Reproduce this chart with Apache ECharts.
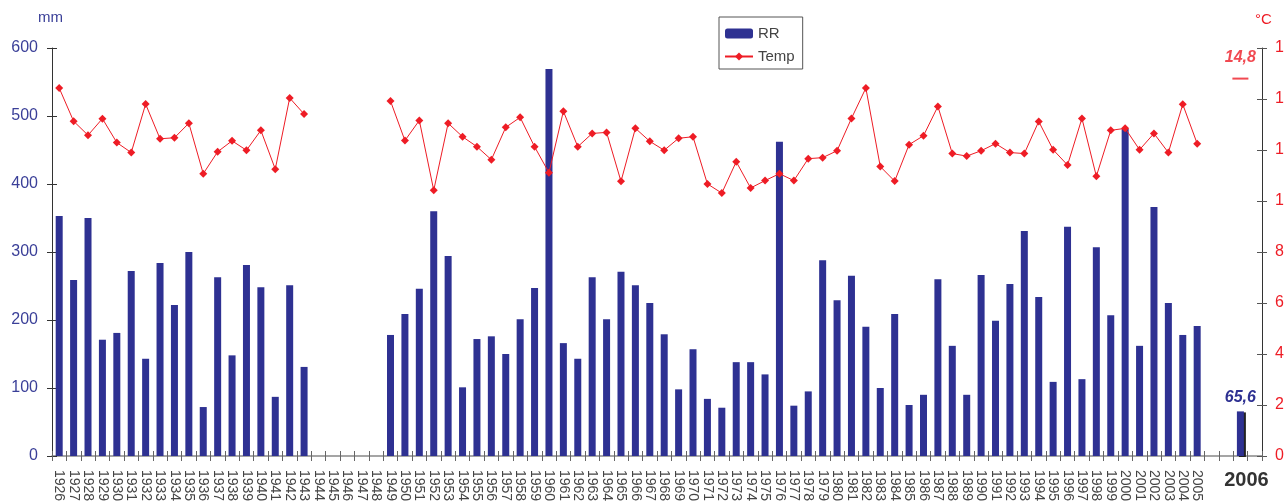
<!DOCTYPE html>
<html>
<head>
<meta charset="utf-8">
<script src="https://cdn.jsdelivr.net/npm/echarts@6/dist/echarts.min.js"></script>
<style>
html,body{margin:0;padding:0;background:#fff;}
#chart{width:1284px;height:501px;}
</style>
</head>
<body>
<div id="chart"></div>
<script>
var categories = ['1926','1927','1928','1929','1930','1931','1932','1933','1934','1935','1936','1937','1938','1939','1940','1941','1942','1943','1944','1945','1946','1947','1948','1949','1950','1951','1952','1953','1954','1955','1956','1957','1958','1959','1960','1961','1962','1963','1964','1965','1966','1967','1968','1969','1970','1971','1972','1973','1974','1975','1976','1977','1978','1979','1980','1981','1982','1983','1984','1985','1986','1987','1988','1989','1990','1991','1992','1993','1994','1995','1996','1997','1998','1999','2000','2001','2002','2003','2004','2005','','','2006',''];

var rr = [353,259,350,171,181,272,143,284,222,300,72,263,148,281,248,87,251,131,'-','-','-','-','-',178,209,246,360,294,101,172,176,150,201,247,569,166,143,263,201,271,251,225,179,98,157,84,71,138,138,120,462,74,95,288,229,265,190,100,209,75,90,260,162,90,266,199,253,331,234,109,337,113,307,207,481,162,366,225,178,191,'-','-',65.6,'-'];

var temp = [14.43,13.13,12.58,13.23,12.29,11.90,13.80,12.44,12.48,13.05,11.07,11.93,12.36,11.99,12.77,11.25,14.04,13.41,'-','-','-','-','-',13.92,12.37,13.16,10.42,13.05,12.52,12.13,11.62,12.89,13.28,12.13,11.11,13.52,12.13,12.65,12.69,10.77,12.85,12.34,11.99,12.46,12.52,10.67,10.31,11.54,10.51,10.80,11.07,10.80,11.66,11.70,11.97,13.24,14.43,11.35,10.78,12.21,12.56,13.71,11.86,11.76,11.97,12.25,11.90,11.86,13.12,12.01,11.41,13.24,10.97,12.77,12.85,12.01,12.65,11.90,13.79,12.25,'-','-','-','-'];

var temp2006 = ['-','-','-','-','-','-','-','-','-','-','-','-','-','-','-','-','-','-','-','-','-','-','-','-','-','-','-','-','-','-','-','-','-','-','-','-','-','-','-','-','-','-','-','-','-','-','-','-','-','-','-','-','-','-','-','-','-','-','-','-','-','-','-','-','-','-','-','-','-','-','-','-','-','-','-','-','-','-','-','-','-','-',14.8,'-'];

var mmTicks = {min:0, max:600, interval:100};
var cTicks = {min:0, max:16, interval:2};

var BLUE = '#2e3192';
var RED = '#ee1c25';
var FONT = 'Liberation Sans, Arial, sans-serif';
var hiIdx = categories.indexOf('2006');

var rrData = rr.map(function(v, i){
  if (i === hiIdx) {
    return {value: v,
      itemStyle: {color: BLUE, shadowColor: '#222', shadowOffsetX: 2, shadowOffsetY: 1, shadowBlur: 0},
      label: {show: true, position: 'top', distance: 6, formatter: function(p){return String(p.value).replace('.', ',');},
        color: BLUE, fontSize: 16, fontWeight: 'bold', fontStyle: 'italic', fontFamily: FONT}};
  }
  return v;
});

var chart = echarts.init(document.getElementById('chart'));
chart.setOption({
  animation: false,
  backgroundColor: '#fff',
  textStyle: {fontFamily: FONT},
  grid: {left: 52, right: 22, top: 48, bottom: 45, containLabel: false, outerBoundsMode: 'none'},
  legend: {
    data: ['RR', 'Temp'],
    orient: 'vertical', left: 719, top: 17,
    itemWidth: 28, itemHeight: 10, itemGap: 8,
    padding: [9, 8, 5, 5],
    borderColor: '#555', borderWidth: 1,
    textStyle: {fontSize: 15, color: '#444', fontFamily: FONT}
  },
  graphic: [
    {type: 'text', left: 38, top: 10, style: {text: 'mm', fill: '#3a3f98', font: '15px ' + FONT}},
    {type: 'text', left: 1255, top: 12, style: {text: '°C', fill: RED, font: '15px ' + FONT}}
  ],
  xAxis: [
    {type: 'category', data: categories, position: 'bottom',
      axisLine: {lineStyle: {color: '#888', width: 1.5}},
      axisTick: {show: true, interval: 0, length: 5, lineStyle: {color: '#666'}},
      axisLabel: {interval: 0, rotate: -90, margin: 14, fontSize: 14, color: '#444', fontFamily: FONT,
        formatter: function(v){ return v === '2006' ? '' : v; }}
    },
    {type: 'category', data: categories, position: 'bottom',
      axisLine: {show: false},
      axisTick: {show: true, inside: true, interval: 0, length: 5, lineStyle: {color: '#666'}},
      axisLabel: {interval: 0, margin: 14, fontSize: 20, fontWeight: 'bold', color: '#333', fontFamily: FONT,
        padding: [0, 0, 0, 12],
        formatter: function(v){ return v === '2006' ? v : ''; }}
    }
  ],
  yAxis: [
    {type: 'value', position: 'left', min: mmTicks.min, max: mmTicks.max, interval: mmTicks.interval,
      splitLine: {show: false},
      axisLine: {show: true, lineStyle: {color: '#333'}},
      axisTick: {show: true, length: 5, lineStyle: {color: '#333'}},
      axisLabel: {margin: 14, fontSize: 16, color: '#3a3f98', fontFamily: FONT}
    },
    {type: 'value', position: 'right', min: cTicks.min, max: cTicks.max, interval: cTicks.interval,
      splitLine: {show: false},
      axisLine: {show: true, lineStyle: {color: '#333'}},
      axisTick: {show: true, length: 5, lineStyle: {color: '#555'}},
      axisLabel: {margin: 13, fontSize: 16, color: RED, fontFamily: FONT}
    },
    {type: 'value', position: 'left', min: mmTicks.min, max: mmTicks.max, interval: mmTicks.interval,
      splitLine: {show: false}, axisLine: {show: false},
      axisTick: {show: true, inside: true, length: 5, lineStyle: {color: '#333'}},
      axisLabel: {show: false}
    },
    {type: 'value', position: 'right', min: cTicks.min, max: cTicks.max, interval: cTicks.interval,
      splitLine: {show: false}, axisLine: {show: false},
      axisTick: {show: true, inside: true, length: 5, lineStyle: {color: '#555'}},
      axisLabel: {show: false}
    }
  ],
  series: [
    {name: 'RR', type: 'bar', xAxisIndex: 0, yAxisIndex: 0, data: rrData, barWidth: 7,
      itemStyle: {color: BLUE}},
    {name: 'Temp', type: 'line', xAxisIndex: 0, yAxisIndex: 1, data: temp, connectNulls: false,
      symbol: 'diamond', symbolSize: 8, showAllSymbol: true,
      lineStyle: {color: RED, width: 1}, itemStyle: {color: RED}},
    {name: 'Temp2006', type: 'scatter', xAxisIndex: 0, yAxisIndex: 1, data: temp2006,
      symbol: 'rect', symbolSize: [16, 2], itemStyle: {color: RED},
      label: {show: true, position: 'top', distance: 12,
        formatter: function(p){return String(p.value).replace('.', ',');},
        color: RED, fontSize: 16, fontWeight: 'bold', fontStyle: 'italic', fontFamily: FONT}}
  ]
});
</script>
</body>
</html>
